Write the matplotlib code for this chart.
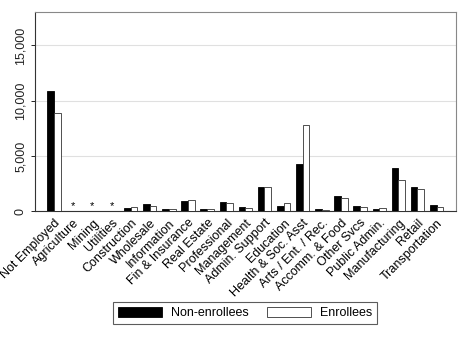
import matplotlib
matplotlib.use("Agg")
import matplotlib.pyplot as plt
import numpy as np
from matplotlib.patches import Patch

plt.rcParams['font.family'] = ['Liberation Sans', 'DejaVu Sans']

categories = ["Not Employed", "Agriculture", "Mining", "Utilities", "Construction",
              "Wholesale", "Information", "Fin & Insurance", "Real Estate", "Professional",
              "Management", "Admin. Support", "Education", "Health & Soc. Asst",
              "Arts / Ent. / Rec.", "Accomm. & Food", "Other Svcs", "Public Admin.",
              "Manufacturing", "Retail", "Transportation"]
non_enrollees = [10920, 0, 0, 0, 300, 630, 180, 900, 180, 840, 360, 2230, 510, 4310,
                 180, 1410, 450, 240, 3900, 2170, 570]
enrollees = [8880, 0, 0, 0, 360, 450, 180, 1000, 180, 750, 300, 2170, 720, 7850,
             120, 1230, 360, 270, 2810, 2020, 390]
suppressed = ["Agriculture", "Mining", "Utilities"]
yticks = [0, 5000, 10000, 15000]
ytick_labels = ["0", "5,000", "10,000", "15,000"]

fig = plt.figure(figsize=(4.68, 3.40), dpi=100)
ax = fig.add_axes([35/468, 1 - 211.3/340, 420.7/468, 199/340])

x = np.arange(len(categories))
w = 0.35
ax.bar(x - w/2, non_enrollees, width=w, color='black', edgecolor='black', linewidth=0.6, zorder=3)
ax.bar(x + w/2, enrollees, width=w, color='white', edgecolor='#333333', linewidth=0.6, zorder=3)

for c in suppressed:
    i = categories.index(c)
    ax.text(i, 450, "*", ha='center', va='center', fontsize=8, zorder=4)

ax.set_xlim(-1, len(categories))
ax.set_ylim(0, 18000)
ax.set_yticks(yticks)
ax.set_yticklabels(ytick_labels, rotation=90, va='center', fontsize=9, color='#222222')
ax.set_xticks(x)
ax.set_xticklabels(categories, rotation=45, ha='right', rotation_mode='anchor', fontsize=9)
ax.tick_params(axis='x', length=0, pad=4)
ax.tick_params(axis='y', length=3, width=0.6, pad=3)
ax.yaxis.grid(True, color='#e0e0e0', linewidth=0.8, zorder=0)
ax.set_axisbelow(True)
for s in ['top', 'right']:
    ax.spines[s].set_color('#888888')
    ax.spines[s].set_linewidth(0.8)
for s in ['left', 'bottom']:
    ax.spines[s].set_color('#333333')
    ax.spines[s].set_linewidth(0.8)

handles = [Patch(facecolor='black', edgecolor='black', linewidth=0.6),
           Patch(facecolor='white', edgecolor='#333333', linewidth=0.6)]
leg = fig.legend(handles, ["Non-enrollees", "Enrollees"], ncol=2,
                 loc='center', bbox_to_anchor=(245/468, 1 - 313/340),
                 fontsize=9, frameon=True, fancybox=False, handlelength=3.5,
                 handleheight=0.9, columnspacing=1.5, borderpad=0.4, handletextpad=0.7,
                 borderaxespad=0)
leg.get_frame().set_edgecolor('#333333')
leg.get_frame().set_linewidth(0.8)

fig.savefig("out.png", dpi=100)
